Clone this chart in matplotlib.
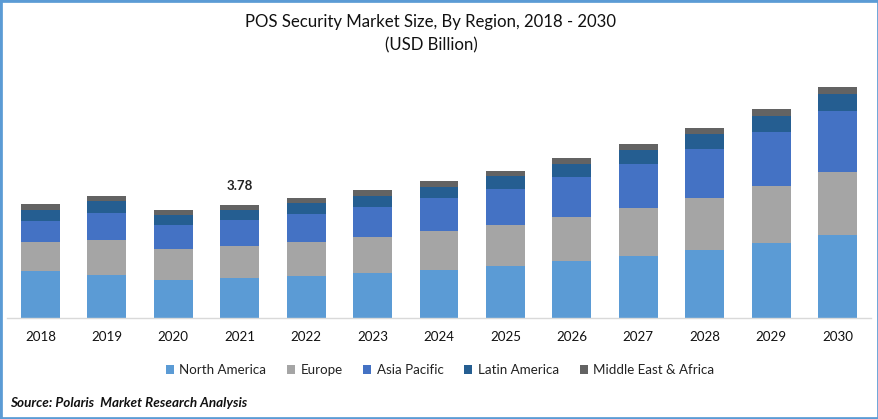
import matplotlib
matplotlib.use("Agg")
import matplotlib.pyplot as plt
import numpy as np
from matplotlib.patches import Rectangle

W, H = 879, 419

years = ["2018", "2019", "2020", "2021", "2022", "2023", "2024",
         "2025", "2026", "2027", "2028", "2029", "2030"]
north_america = [1.57, 1.44, 1.27, 1.34, 1.40, 1.51, 1.61, 1.74, 1.91, 2.07, 2.27, 2.51, 2.78]
europe = [0.97, 1.17, 1.04, 1.07, 1.14, 1.20, 1.30, 1.37, 1.47, 1.61, 1.74, 1.91, 2.11]
asia_pacific = [0.70, 0.90, 0.80, 0.87, 0.94, 1.00, 1.10, 1.20, 1.34, 1.47, 1.64, 1.81, 2.04]
latin_america = [0.37, 0.40, 0.33, 0.33, 0.37, 0.37, 0.37, 0.43, 0.43, 0.47, 0.50, 0.54, 0.57]
middle_east = [0.20, 0.17, 0.17, 0.17, 0.17, 0.20, 0.20, 0.17, 0.20, 0.20, 0.20, 0.23, 0.23]

series = [("North America", north_america, "#5B9BD5"),
          ("Europe", europe, "#A5A5A5"),
          ("Asia Pacific", asia_pacific, "#4472C4"),
          ("Latin America", latin_america, "#255E91"),
          ("Middle East & Africa", middle_east, "#636363")]

plt.rcParams["font.family"] = ["Lato", "DejaVu Sans"]

fig = plt.figure(figsize=(W / 100, H / 100), dpi=100)
# axes placed in pixels: baseline at y=318
ax = fig.add_axes([7.3 / W, 1 - 318 / H, (870.7 - 7.3) / W, 238 / H])

x = np.arange(len(years))
bottom = np.zeros(len(years))
for name, vals, col in series:
    ax.bar(x, vals, 0.587, bottom=bottom, color=col, label=name, linewidth=0)
    bottom += np.array(vals)

ax.set_xlim(-0.5, 12.5)
ax.set_ylim(0, 238 * 0.03345)
ax.set_xticks(x, years, fontsize=9.6, color="#111111")
ax.set_yticks([])
ax.tick_params(axis="x", length=0, pad=9.5)
for s in ["top", "left", "right"]:
    ax.spines[s].set_visible(False)
ax.spines["bottom"].set_color("#D9D9D9")
ax.spines["bottom"].set_linewidth(1.0)

ax.text(3, 3.78 + 0.45, "3.78", ha="center", va="bottom", fontsize=9.6,
        fontweight="bold", color="#222222")

fig.text(431 / W, 1 - 22 / H, "POS Security Market Size, By Region, 2018 - 2030",
         ha="center", va="center", fontsize=12.1, color="#111111")
fig.text(431 / W, 1 - 45 / H, "(USD Billion)", ha="center", va="center",
         fontsize=12.1, color="#111111")

ax.legend(loc="center", bbox_to_anchor=(440 / W, 1 - 370 / H),
          bbox_transform=fig.transFigure, ncol=5, frameon=False, fontsize=9.6,
          handlelength=0.6, handleheight=0.6, handletextpad=0.4,
          columnspacing=1.57, labelcolor="#222222")

fig.text(10 / W, 1 - 403 / H, "Source: Polaris  Market Research Analysis",
         ha="left", va="center", fontsize=9.7, fontweight="bold",
         fontstyle="italic", color="#111111")

# blue frame round the whole picture
fig.add_artist(Rectangle((0, 0), 1, 1, transform=fig.transFigure, fill=False,
                         edgecolor="#5B9BD5", linewidth=3.4))

fig.savefig("out.png", dpi=100)
